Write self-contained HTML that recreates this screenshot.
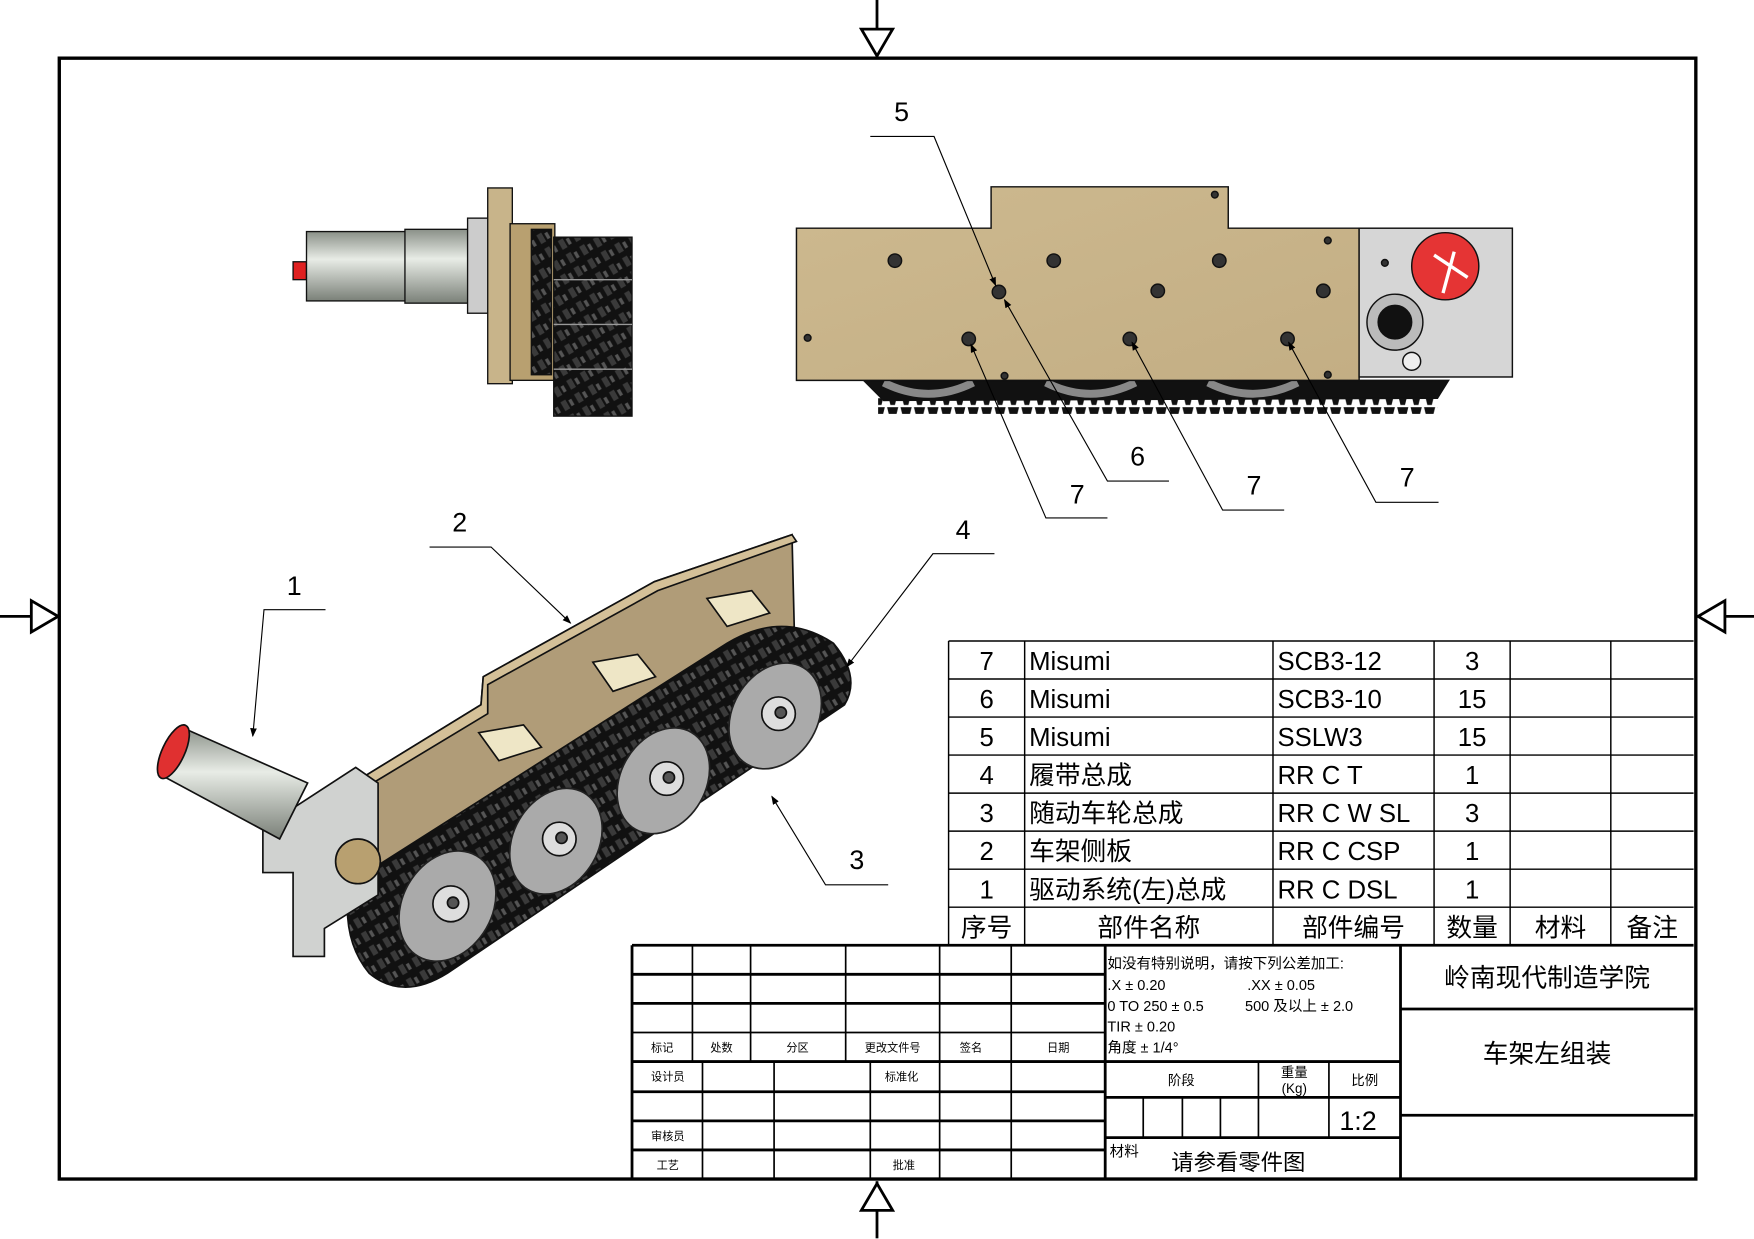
<!DOCTYPE html>
<html><head><meta charset="utf-8"><style>
html,body{margin:0;padding:0;background:#fff;}
svg{display:block;}
text{font-family:"Liberation Sans","Noto Sans CJK SC",sans-serif;fill:#000;}
</style></head><body>
<svg width="1754" height="1239" viewBox="0 0 1568 1107.6" xmlns="http://www.w3.org/2000/svg">
<defs>
<pattern id="teeth" width="12" height="14" patternUnits="userSpaceOnUse">
<path d="M1 0 L4 12 L8 12 L11 0 Z" fill="#111"/>
</pattern>
<pattern id="chain" width="14" height="14" patternUnits="userSpaceOnUse" patternTransform="rotate(-30)">
<rect width="14" height="14" fill="#111"/>
<rect x="2" y="2" width="5" height="9" fill="#3a3a3a"/>
<rect x="9" y="4" width="3" height="6" fill="#555"/>
</pattern>
<linearGradient id="tan" x1="0" y1="0" x2="1" y2="1"><stop offset="0" stop-color="#cdb98f"/><stop offset="1" stop-color="#c3ae84"/></linearGradient>
<linearGradient id="cyl" x1="0" y1="0" x2="0" y2="1"><stop offset="0" stop-color="#8a9088"/><stop offset="0.4" stop-color="#e8ece6"/><stop offset="1" stop-color="#7a8078"/></linearGradient>
<marker id="ar" markerWidth="8" markerHeight="8" refX="7" refY="4" orient="auto"><path d="M0 1 L8 4 L0 7 Z" fill="#000"/></marker>
</defs>

<rect x="53" y="52" width="1463" height="1002" fill="none" stroke="#000" stroke-width="3"/>
<g stroke="#000" stroke-width="2.5" fill="#fff">
<line x1="784" y1="0" x2="784" y2="52"/><path d="M770 26 L798 26 L784 50 Z"/>
<line x1="0" y1="551" x2="53" y2="551"/><path d="M28 537 L28 565 L52 551 Z"/>
<line x1="1516" y1="551" x2="1568" y2="551"/><path d="M1542 537 L1542 565 L1518 551 Z"/>
<line x1="784" y1="1056" x2="784" y2="1107"/><path d="M770 1082 L798 1082 L784 1058 Z"/>
</g>

<!-- top-left view -->
<g stroke="#111" stroke-width="1.2">
<rect x="262" y="234" width="12" height="16" fill="#e02020"/>
<rect x="274" y="207" width="90" height="62" fill="url(#cyl)"/>
<rect x="362" y="205" width="58" height="66" fill="url(#cyl)"/>
<rect x="418" y="195" width="20" height="85" fill="#ccc"/>
<rect x="436" y="168" width="22" height="175" fill="#c8b48a"/>
<rect x="456" y="200" width="40" height="140" fill="#b8a070"/>
<rect x="475" y="205" width="18" height="130" fill="url(#chain)"/>
<rect x="495" y="212" width="70" height="160" fill="url(#chain)"/>
<line x1="495" y1="250" x2="565" y2="250" stroke="#999"/>
<line x1="495" y1="290" x2="565" y2="290" stroke="#999"/>
<line x1="495" y1="330" x2="565" y2="330" stroke="#999"/>
</g>

<!-- side view -->
<g stroke="#111" stroke-width="1.3">
<path d="M772 340 L1295 340 L1285 356 L790 358 Z" fill="#111"/>
<rect x="785" y="356" width="500" height="14" fill="url(#teeth)" stroke="none"/>
<path d="M790 342 Q830 362 870 342 M935 342 Q975 362 1015 342 M1080 342 Q1120 362 1160 342" stroke="#888" stroke-width="7" fill="none"/>
<path d="M712 204 L886 204 L886 167 L1098 167 L1098 204 L1215 204 L1215 340 L712 340 Z" fill="url(#tan)"/>
<rect x="1215" y="204" width="137" height="133" fill="#d6d6d6"/>
<circle cx="1292" cy="238" r="30" fill="#e53434"/>
<path d="M1282 228 L1312 248 M1300 225 L1290 262" stroke="#fff" stroke-width="3"/>
<circle cx="1247" cy="288" r="25" fill="#bbb"/>
<circle cx="1247" cy="288" r="15" fill="#111"/>
<circle cx="1262" cy="323" r="8" fill="#eee"/>
<g fill="#333">
<circle cx="800" cy="233" r="6"/><circle cx="942" cy="233" r="6"/><circle cx="1090" cy="233" r="6"/>
<circle cx="893" cy="261" r="6"/><circle cx="1035" cy="260" r="6"/><circle cx="1183" cy="260" r="6"/>
<circle cx="866" cy="303" r="6"/><circle cx="1010" cy="303" r="6"/><circle cx="1151" cy="303" r="6"/>
<circle cx="722" cy="302" r="3"/><circle cx="898" cy="336" r="3"/><circle cx="1086" cy="174" r="3"/>
<circle cx="1187" cy="215" r="3"/><circle cx="1187" cy="335" r="3"/><circle cx="1238" cy="235" r="3"/>
</g>
</g>

<!-- isometric -->
<g stroke="#111" stroke-width="1.5">
<path d="M316 700 L430 630 L432 605 L585 520 L708 478 L710 560 L330 790 Z" fill="#b09c78"/>
<path d="M316 700 L430 630 L432 605 L585 520 L708 478 L712 484 L588 528 L436 612 L436 638 L320 708 Z" fill="#d4c098"/>
<g fill="#eee6c6">
<path d="M632 535 L672 528 L688 548 L650 560 Z"/>
<path d="M530 592 L570 585 L586 605 L548 618 Z"/>
<path d="M428 655 L468 648 L484 668 L446 680 Z"/>
</g>
<path d="M312 790 L650 575 Q700 545 745 575 Q770 605 755 630 L400 870 Q360 895 330 870 Q305 840 312 790 Z" fill="url(#chain)"/>
<g fill="#aaa" stroke="#222">
<ellipse cx="400" cy="810" rx="40" ry="52" transform="rotate(30 400 810)"/>
<ellipse cx="497" cy="752" rx="38" ry="50" transform="rotate(30 497 752)"/>
<ellipse cx="593" cy="698" rx="38" ry="50" transform="rotate(30 593 698)"/>
<ellipse cx="693" cy="640" rx="38" ry="50" transform="rotate(30 693 640)"/>
</g>
<g fill="#ddd"><circle cx="403" cy="808" r="16"/><circle cx="500" cy="750" r="15"/><circle cx="596" cy="696" r="15"/><circle cx="696" cy="638" r="15"/></g>
<g fill="#555"><circle cx="405" cy="807" r="5"/><circle cx="502" cy="749" r="5"/><circle cx="598" cy="695" r="5"/><circle cx="698" cy="637" r="5"/></g>
<path d="M235 740 L318 686 L338 700 L338 800 L290 830 L290 855 L262 855 L262 780 L235 780 Z" fill="#d0d2d0"/>
<path d="M162 650 L275 700 L250 750 L148 695 Z" fill="url(#cyl)"/>
<ellipse cx="155" cy="672" rx="10" ry="26" transform="rotate(25 155 672)" fill="#e03030"/>
<circle cx="320" cy="770" r="20" fill="#b8a070"/>
</g>

<g stroke="#000" stroke-width="1" fill="none">
<path d="M778 122 L835 122 L890 255" marker-end="url(#ar)"/><path d="M1045 430 L990 430 L898 268" marker-end="url(#ar)"/>
<path d="M990 463 L935 463 L868 308" marker-end="url(#ar)"/><path d="M1148 456 L1093 456 L1012 306" marker-end="url(#ar)"/>
<path d="M1286 449 L1230 449 L1152 306" marker-end="url(#ar)"/>
<path d="M291 545 L236 545 L226 658" marker-end="url(#ar)"/><path d="M384 489 L439 489 L510 557" marker-end="url(#ar)"/>
<path d="M794 791 L738 791 L690 712" marker-end="url(#ar)"/><path d="M889 495 L834 495 L757 596" marker-end="url(#ar)"/>
</g>
<g font-size="24" text-anchor="middle">
<text x="806" y="108">5</text><text x="1017" y="416">6</text><text x="963" y="450">7</text>
<text x="1121" y="442">7</text><text x="1258" y="435">7</text><text x="263" y="532">1</text>
<text x="411" y="475">2</text><text x="766" y="777">3</text><text x="861" y="482">4</text>
</g>

<g stroke="#000" stroke-width="1.3" fill="none">
<path d="M848 573 H1514 M848 607 H1514 M848 641 H1514 M848 675 H1514 M848 709 H1514 M848 743 H1514 M848 777 H1514 M848 811 H1514"/>
<path d="M848 573 V845 M916 573 V845 M1138 573 V845 M1282 573 V845 M1350 573 V845 M1440 573 V845"/>
</g>
<g font-size="23">
<g text-anchor="middle">
<text x="882" y="599">7</text><text x="882" y="633">6</text><text x="882" y="667">5</text><text x="882" y="701">4</text><text x="882" y="735">3</text><text x="882" y="769">2</text><text x="882" y="803">1</text>
<text x="1316" y="599">3</text><text x="1316" y="633">15</text><text x="1316" y="667">15</text><text x="1316" y="701">1</text><text x="1316" y="735">3</text><text x="1316" y="769">1</text><text x="1316" y="803">1</text>
<text x="882" y="837">序号</text><text x="1027" y="837">部件名称</text><text x="1210" y="837">部件编号</text><text x="1316" y="837">数量</text><text x="1395" y="837">材料</text><text x="1477" y="837">备注</text>
</g>
<text x="920" y="599">Misumi</text><text x="920" y="633">Misumi</text><text x="920" y="667">Misumi</text><text x="920" y="701">履带总成</text><text x="920" y="735">随动车轮总成</text><text x="920" y="769">车架侧板</text><text x="920" y="803">驱动系统(左)总成</text>
<text x="1142" y="599">SCB3-12</text><text x="1142" y="633">SCB3-10</text><text x="1142" y="667">SSLW3</text><text x="1142" y="701">RR C T</text><text x="1142" y="735">RR C W SL</text><text x="1142" y="769">RR C CSP</text><text x="1142" y="803">RR C DSL</text>
</g>

<g stroke="#000" fill="none">
<path d="M565 845 H1514 M565 845 V1054 M988 845 V1054 M1252 845 V1054" stroke-width="2.5"/>
<path d="M565 871 H988 M565 897 H988 M565 949 H988 M565 976 H988 M565 1002 H988 M565 1028 H988" stroke-width="2.5"/>
<path d="M565 923 H988" stroke-width="1.5"/>
<path d="M619 845 V949 M671 845 V949 M756 845 V949 M840 845 V949 M904 845 V1054" stroke-width="1.5"/>
<path d="M628 949 V1054 M692 949 V1054 M778 949 V1054 M840 949 V1054" stroke-width="1.5"/>
<path d="M988 949 H1252 M988 981 H1252 M988 1017 H1252" stroke-width="2.5"/>
<path d="M1022 981 V1017 M1057 981 V1017 M1091 981 V1017 M1125 949 V1017 M1188 949 V1017" stroke-width="1.5"/>
<path d="M1252 902 H1514 M1252 997 H1514" stroke-width="2.5"/>
</g>
<g font-size="10" text-anchor="middle">
<text x="592" y="940">标记</text><text x="645" y="940">处数</text><text x="713" y="940">分区</text><text x="798" y="940">更改文件号</text><text x="868" y="940">签名</text><text x="946" y="940">日期</text>
<text x="597" y="966">设计员</text><text x="806" y="966">标准化</text><text x="597" y="1019">审核员</text><text x="597" y="1045">工艺</text><text x="808" y="1045">批准</text>
</g>
<g font-size="13">
<text x="990" y="866">如没有特别说明，请按下列公差加工:</text>
<text x="990" y="885">.X ± 0.20</text><text x="1115" y="885">.XX ± 0.05</text>
<text x="990" y="904">0 TO 250 ± 0.5</text><text x="1113" y="904">500 及以上 ± 2.0</text>
<text x="990" y="922">TIR ± 0.20</text><text x="990" y="941">角度 ± 1/4°</text>
<text x="992" y="1034">材料</text>
</g>
<g font-size="12" text-anchor="middle"><text x="1056" y="970">阶段</text><text x="1157" y="963">重量</text><text x="1157" y="977">(Kg)</text><text x="1220" y="970">比例</text></g>
<text x="1214" y="1010" font-size="24" text-anchor="middle">1:2</text>
<text x="1107" y="1046" font-size="20" text-anchor="middle">请参看零件图</text>
<text x="1383" y="882" font-size="23" text-anchor="middle">岭南现代制造学院</text>
<text x="1383" y="950" font-size="23" text-anchor="middle">车架左组装</text>
</svg>
</body></html>
